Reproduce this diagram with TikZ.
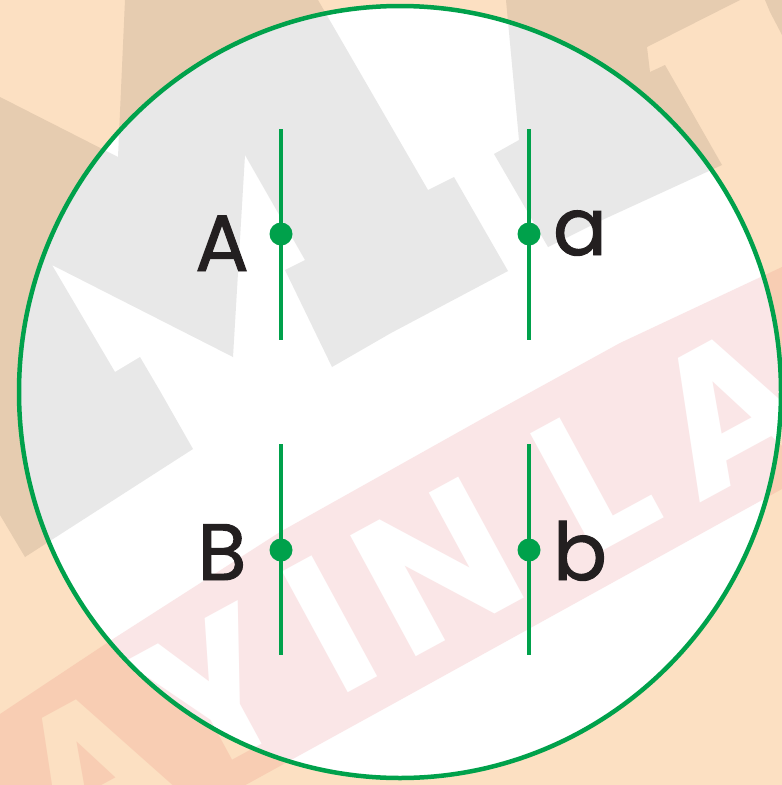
\documentclass[tikz,border=0pt]{standalone}
\usepackage{fontspec}
\setmainfont{Poppins}
\newfontfamily\wmfont{Poppins}
\newfontfamily\lblfont[FakeBold=1.2]{Poppins}
\definecolor{peach}{HTML}{FCE0C2}
\definecolor{tan}{HTML}{E6CCB0}
\definecolor{lgray}{HTML}{E8E8E8}
\definecolor{pinkband}{HTML}{FAE6E7}
\definecolor{salmon}{HTML}{F8CDB3}
\definecolor{gr}{HTML}{00A14B}
\definecolor{ink}{HTML}{231F20}
\tikzset{
  lbl/.style={font=\lblfont\fontsize{80}{80}\selectfont, text=ink, inner sep=0pt, anchor=base},
  dotnode/.style={circle, fill=gr, minimum size=23pt, inner sep=0pt},
  wire/.style={draw=gr, line width=4pt},
  rim/.style={draw=gr, line width=4.5pt},
  wm/.style={font=\wmfont\bfseries\fontsize{196}{196}\selectfont, inner sep=0pt, rotate=28.5},
}
\newcommand\darkA{(125,0) -- (318,0) -- (428,190) -- (454,177) -- (508,271) -- (391,333) -- (332,367) -- (285,270) -- (305,260) -- (245,155) -- (233,357) -- (52,265) -- (115,372) -- (140,357) -- (160,391) -- (193,449) -- (25,557) -- (0,515) -- (0,97) -- (118,157) -- cycle}
\newcommand\darkB{(506,0) -- (740,0) -- (647,47) -- (650,72) -- (665,65) -- (722,165) -- (600,221) -- (548,247) -- (494,154) -- (519,140) -- cycle}
\newcommand\darkC{(765,0) -- (782,0) -- (782,35) -- (770,12) -- cycle}
\newcommand\bandpath{(0,714) -- (113,639) -- (280,532) -- (480,420) -- (620,343) -- (782,267) -- (782,489) -- (391,705) -- (0,920) -- cycle}
\newcommand\wmletters[2]{%
  \node[wm, text=#1] (#2a1) at (92,770) {A};
  \node[wm, text=#1] (#2y) at (214,692) {Y};
  \node[wm, text=#1] (#2i) at (330,624) {I};
  \node[wm, text=#1] (#2n) at (437,567) {N};
  \node[wm, text=#1] (#2l) at (594,478) {L};
  \node[wm, text=#1] (#2a2) at (728,410) {A};
}
\begin{document}
\begin{tikzpicture}[x=1pt,y=-1pt]
\useasboundingbox (0,0) rectangle (782,785);
\begin{scope}
\clip (0,0) rectangle (782,785);
% outside pattern
\fill[peach] (0,0) rectangle (782,785);
\fill[tan] \darkA;
\fill[tan] \darkB;
\fill[tan] \darkC;
\fill[salmon] \bandpath;
\wmletters{peach}{o}
% inside pattern
\begin{scope}
\clip (400,392) ellipse [x radius=381, y radius=386];
\fill[white] (0,0) rectangle (782,785);
\fill[lgray] \darkA;
\fill[lgray] \darkB;
\fill[pinkband] \bandpath;
\wmletters{white}{w}
\end{scope}
\draw[rim] (400,392) ellipse [x radius=381, y radius=386];
\end{scope}
% wires
\coordinate (t1) at (281,129); \coordinate (e1) at (281,340);
\coordinate (t2) at (529,129); \coordinate (e2) at (529,340);
\coordinate (t3) at (281,444); \coordinate (e3) at (281,655);
\coordinate (t4) at (529,444); \coordinate (e4) at (529,655);
\draw[wire] (t1) -- (e1);
\draw[wire] (t2) -- (e2);
\draw[wire] (t3) -- (e3);
\draw[wire] (t4) -- (e4);
\node[dotnode] (d1) at (281,234) {};
\node[dotnode] (d2) at (529,234) {};
\node[dotnode] (d3) at (281,550) {};
\node[dotnode] (d4) at (529,550) {};
% labels
\node[lbl] (lA) at (222,271) {A};
\node[lbl] (la) at (580,255) {a};
\node[lbl] (lB) at (222,580) {B};
\node[lbl] (lb) at (580,580) {b};
\end{tikzpicture}
\end{document}
